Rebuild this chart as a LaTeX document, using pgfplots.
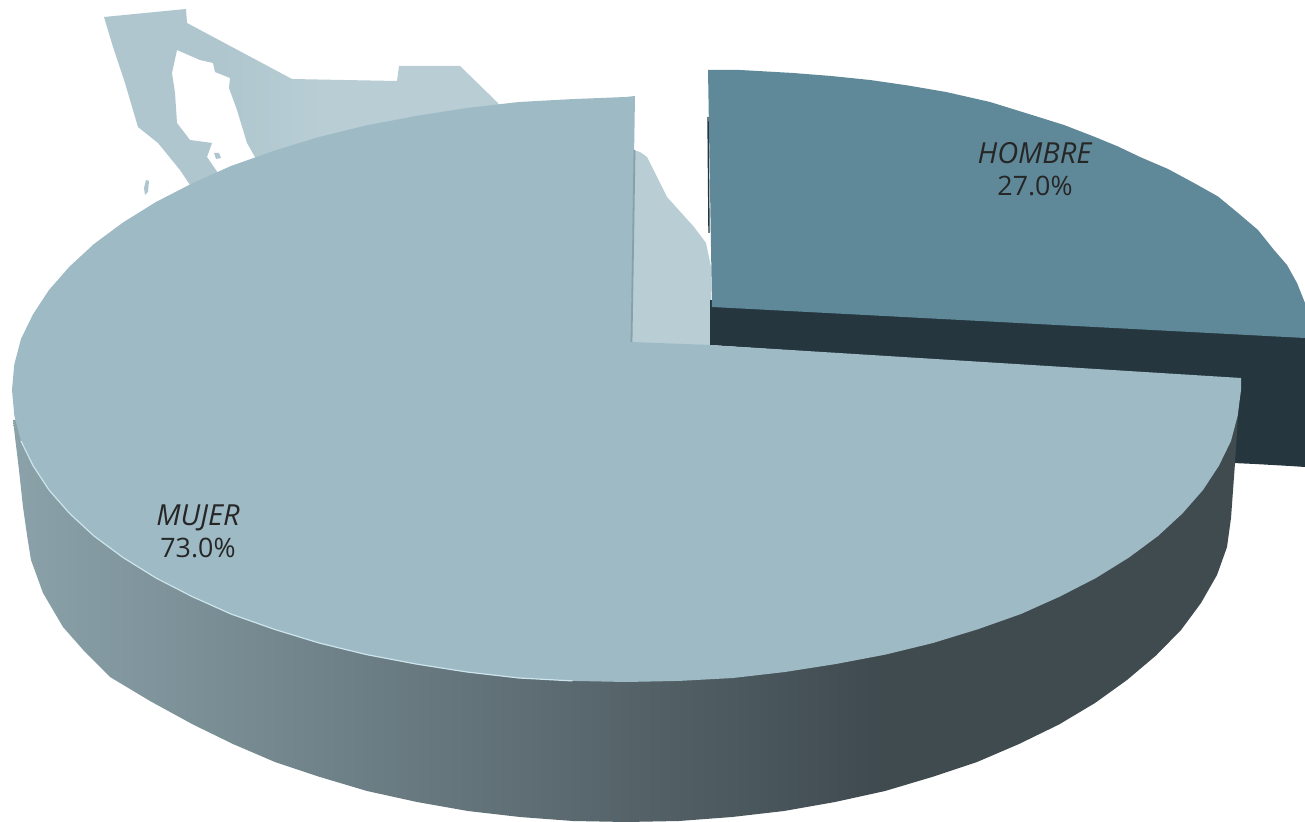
\documentclass[border=0pt]{standalone}
\usepackage{pgfplots}
\pgfplotsset{compat=1.18}
\usepackage{fontspec}
\setmainfont{Open Sans}
\definecolor{mapb}{RGB}{175,198,206}
\definecolor{mapa}{RGB}{184,205,212}
\definecolor{mujer}{RGB}{158,186,197}
\definecolor{hombre}{RGB}{95,137,152}
\definecolor{hombreside}{RGB}{37,54,62}
\definecolor{edge}{RGB}{135,160,170}
\definecolor{glow}{RGB}{205,228,236}
\pgfdeclarehorizontalshading{sideshade}{100bp}{
  rgb(0bp)=(0.545,0.635,0.665);
  rgb(25bp)=(0.545,0.635,0.665);
  rgb(60bp)=(0.25,0.294,0.314);
  rgb(100bp)=(0.25,0.294,0.314)}
\pgfdeclarehorizontalshading{mapshade}{100bp}{
  rgb(0bp)=(0.686,0.776,0.808);
  rgb(38bp)=(0.686,0.776,0.808);
  rgb(50bp)=(0.722,0.804,0.831);
  rgb(100bp)=(0.722,0.804,0.831)}
\begin{document}
\begin{tikzpicture}
\begin{axis}[
  scale only axis, width=652.5pt, height=411pt,
  xmin=0, xmax=1305, ymin=0, ymax=822, y dir=reverse,
  axis lines=none, ticks=none, clip=true]
% full-page background, fixes the picture's extent
\addplot[draw=none, fill=white, forget plot] coordinates {(0,0) (1305,0) (1305,822) (0,822) (0,0)};
% map behind the pie
\addplot[draw=none, shading=mapshade, forget plot] coordinates {
 (104,17) (186,9) (187,23) (292,79) (343,80) (397,81) (399,66) (460,66) (498,103)
 (540,200) (260,200) (255,157) (247,143) (237,110) (229,88) (230,78) (215,72)
 (213,63) (200,60) (177,50) (172,73) (175,93) (177,123) (190,140) (212,143)
 (207,157) (218,173) (222,200) (195,200) (190,185) (180,170) (158,143) (138,127)
 (125,83) (113,47) (104,17)};
\addplot[draw=none, fill=mapb, forget plot] coordinates {(146,180) (149,181) (148,192) (145,195) (144,188) (146,180)};
\addplot[draw=none, fill=mapb, forget plot] coordinates {(214,153) (219,153) (221,158) (216,159) (214,153)};
\addplot[draw=none, fill=mapa, forget plot] coordinates {
 (633,150) (640,152) (647,157) (667,197) (694,227) (706,243) (711,267) (711,346) (625,346) (633,150)};
% exploded slice
\addplot[draw=none, fill=hombreside, forget plot] coordinates {
 (710,300) (1305,330) (1305,467) (1290,466) (1255,464) (1233,463) (1233,380) (710,345) (710,300)};
\addplot[draw=none, fill=hombre, forget plot] coordinates {
 (708,70) (740,70) (793,73) (831,76) (870,80) (908,85.5) (946,92) (990,102) (1032,115) (1064,125)
 (1095,137) (1118,146.5) (1140,157) (1168,169) (1194,183) (1218,196.5) (1238,213) (1258,230)
 (1274,250) (1287,265) (1297,283) (1305,303) (1305,338) (712,307) (708,70)};
\addplot[hombreside, line width=0.7pt, forget plot] coordinates {(708,117) (709,233)};
% side of main slice
\addplot[draw=none, shading=sideshade, forget plot] coordinates {
 (13,420) (15,437) (19,470) (23,507) (27,535) (31,560) (43,593) (63,627) (85,652)
 (110,677) (150,701) (193,724.5) (233,744) (275,762) (320,777) (367,791) (417,802)
 (468,811) (520,817) (573,821) (626,822) (679,821) (732,817) (784,811) (835,802)
 (885,791) (932,777) (977,762) (1019,744) (1059,724.5) (1095,703) (1127,680) (1156,655.5)
 (1181,630) (1201,603) (1217,575) (1227,547) (1231,518) (1235,463) (1240,385) (626,420) (13,420)};
% top of main slice
\addplot[draw=none, fill=mujer, forget plot] coordinates {
 (635,96) (626,97) (572.5,99.1) (519,102) (467,108) (416,116) (366.5,125.4) (319,137)
 (274,150.8) (231,166) (192,183.5) (156,202) (123,222.5) (94,244) (69.5,266.6) (49,290)
 (33,314.4) (21,339) (14.3,364.5) (12,390) (14.3,415.5) (21,441) (33,465.6) (49,490)
 (69.5,513.4) (94,536) (123,557.5) (156,578) (192,596.5) (231,614) (274,629.2) (319,643)
 (366.5,654.6) (416,664) (467,672) (519,678) (572.5,680.9) (626,682) (679.5,680.9) (733,678)
 (785,672) (836,664) (885.5,654.6) (933,643) (978,629.2) (1021,614) (1060,596.5) (1096,578)
 (1129,557.5) (1158,536) (1182.5,513.4) (1203,490) (1219,465.6) (1231,441) (1237.7,415.5)
 (1241,390) (1241,378) (710,345) (631,342) (635,96)};
\addplot[edge, line width=0.9pt, forget plot] coordinates {(634.5,150) (633,250) (631.5,342)};
\addplot[glow, line width=0.6pt, forget plot] coordinates {
 (21,441) (33,465.6) (49,490) (69.5,513.4) (94,536) (123,557.5) (156,578) (192,596.5) (231,614)
 (274,629.2) (319,643) (366.5,654.6) (416,664) (467,672) (519,678) (572.5,680.9)};
\node[align=center, font=\fontsize{13.4pt}{16pt}\selectfont, text=black!85] at (axis cs:1035,169) {\fontsize{14.5pt}{16pt}\selectfont\textit{HOMBRE}\\27.0\%};
\node[align=center, font=\fontsize{13.4pt}{16pt}\selectfont, text=black!85] at (axis cs:198,531) {\fontsize{14.5pt}{16pt}\selectfont\textit{MUJER}\\73.0\%};
\end{axis}
\end{tikzpicture}
\end{document}
